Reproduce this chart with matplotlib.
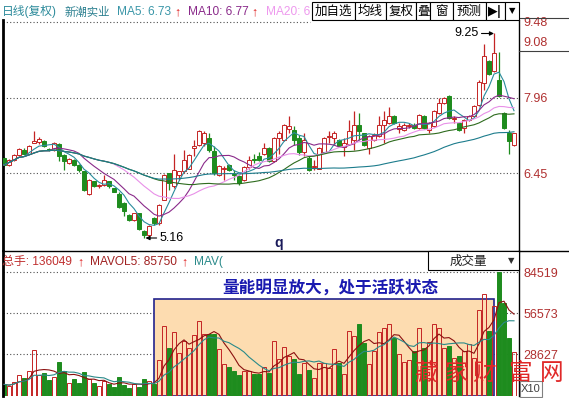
import numpy as np
import pandas as pd
import matplotlib
matplotlib.use('Agg')
import matplotlib.pyplot as plt
from matplotlib.patches import Rectangle
from matplotlib.lines import Line2D

plt.rcParams['font.family'] = ['Liberation Sans', 'Noto Sans CJK SC', 'DejaVu Sans']

# daily candles
opens = [6.75, 6.62, 6.72, 6.82, 6.92, 6.85, 7.05, 7.07, 7.09, 6.94,
         6.92, 7.03, 6.82, 6.65, 6.72, 6.62, 6.49, 6.03, 6.29, 6.19,
         6.22, 6.29, 6.15, 6.05, 5.85, 5.62, 5.52, 5.65, 5.30, 5.22,
         5.55, 5.45, 5.93, 6.45, 6.19, 6.42, 6.49, 6.55, 6.95, 7.02,
         7.05, 7.15, 6.89, 6.42, 6.54, 6.62, 6.43, 6.39, 6.32, 6.57,
         6.75, 6.79, 6.84, 6.95, 6.69, 7.15, 7.12, 7.33, 7.32, 7.15,
         6.89, 6.77, 6.57, 6.55, 6.89, 7.17, 7.15, 7.12, 6.97, 7.04,
         7.12, 7.42, 7.25, 6.95, 7.12, 7.19, 7.42, 7.45, 7.59, 7.33,
         7.32, 7.39, 7.42, 7.35, 7.59, 7.32, 7.39, 7.65, 7.85, 7.99,
         7.54, 7.45, 7.35, 7.52, 7.60, 7.82, 8.25, 8.69, 8.49, 8.32,
         7.65, 7.25, 7.02]
highs = [6.78, 6.74, 6.85, 6.96, 6.95, 7.01, 7.30, 7.17, 7.11, 6.96,
         7.07, 7.06, 6.84, 6.75, 6.74, 6.64, 6.50, 6.34, 6.31, 6.23,
         6.42, 6.31, 6.17, 6.07, 5.87, 5.64, 5.67, 5.67, 5.32, 5.42,
         5.57, 5.84, 6.44, 6.47, 6.85, 6.51, 6.92, 6.84, 7.12, 7.32,
         7.30, 7.25, 6.99, 6.61, 6.59, 6.64, 6.52, 6.41, 6.59, 6.79,
         6.85, 6.89, 7.05, 6.97, 7.17, 7.29, 7.44, 7.59, 7.39, 7.22,
         7.25, 6.79, 6.72, 6.97, 7.17, 7.29, 7.29, 7.14, 7.15, 7.52,
         7.69, 7.65, 7.27, 7.21, 7.25, 7.59, 7.69, 7.77, 7.62, 7.45,
         7.45, 7.45, 7.45, 7.64, 7.62, 7.47, 7.72, 7.95, 7.97, 8.02,
         7.59, 7.47, 7.54, 7.62, 7.82, 8.32, 9.04, 8.72, 9.25, 8.87,
         7.67, 7.32, 7.27]
lows = [6.60, 6.59, 6.70, 6.80, 6.83, 6.84, 7.05, 7.04, 6.97, 6.90,
        6.90, 6.69, 6.52, 6.63, 6.60, 6.48, 6.10, 6.02, 6.18, 6.17,
        6.20, 6.17, 6.07, 5.77, 5.60, 5.49, 5.50, 5.33, 5.16, 5.20,
        5.42, 5.43, 5.92, 6.12, 6.17, 6.32, 6.47, 6.53, 6.79, 7.00,
        7.00, 6.89, 6.43, 6.40, 6.32, 6.50, 6.32, 6.22, 6.30, 6.55,
        6.65, 6.70, 6.82, 6.67, 6.67, 6.85, 7.10, 7.25, 7.02, 6.82,
        6.79, 6.50, 6.52, 6.53, 6.87, 7.05, 7.02, 6.97, 6.79, 7.02,
        6.92, 7.12, 7.00, 6.85, 7.10, 7.17, 7.05, 7.43, 7.43, 7.25,
        7.30, 7.36, 7.33, 7.33, 7.33, 7.25, 7.37, 7.63, 7.83, 7.53,
        7.45, 7.30, 7.25, 7.50, 7.58, 7.80, 8.12, 8.42, 8.47, 7.97,
        7.33, 6.85, 7.00]
closes = [6.62, 6.72, 6.82, 6.93, 6.85, 6.99, 7.09, 7.13, 6.99, 6.92,
          7.05, 6.79, 6.69, 6.73, 6.62, 6.52, 6.12, 6.32, 6.20, 6.21,
          6.32, 6.19, 6.09, 5.79, 5.69, 5.52, 5.65, 5.35, 5.22, 5.40,
          5.45, 5.82, 6.42, 6.25, 6.51, 6.49, 6.72, 6.82, 7.00, 7.29,
          7.25, 6.92, 6.45, 6.59, 6.56, 6.52, 6.41, 6.25, 6.57, 6.72,
          6.72, 6.72, 6.95, 6.69, 7.15, 7.25, 7.42, 7.40, 7.12, 6.89,
          7.12, 6.52, 6.60, 6.95, 7.15, 7.19, 7.25, 6.99, 7.06, 7.30,
          7.42, 7.29, 7.02, 7.19, 7.22, 7.42, 7.52, 7.59, 7.45, 7.39,
          7.42, 7.42, 7.35, 7.62, 7.35, 7.45, 7.69, 7.85, 7.95, 7.55,
          7.56, 7.32, 7.52, 7.59, 7.80, 8.29, 8.80, 8.45, 8.85, 7.99,
          7.35, 7.09, 7.25]
volumes = [7950, 6820, 9770, 14090, 12040, 17040, 31130, 14090, 15900, 10680,
           12950, 23170, 17040, 8630, 11810, 9090, 16360, 11360, 8860, 6820,
           10220, 7950, 6360, 12950, 7500, 5680, 7950, 6360, 11360, 10220,
           8410, 24310, 47710, 32940, 43620, 29540, 37490, 32940, 41580, 51120,
           42030, 42490, 42490, 31810, 21580, 19770, 17040, 14310, 17040, 17040,
           14770, 14770, 19770, 15900, 37490, 24990, 33400, 27260, 24990, 15220,
           22500, 17720, 12300, 22500, 22500, 19310, 32150, 22500, 14770, 44300,
           40900, 49300, 36350, 21590, 30670, 43620, 46120, 49300, 39310, 28860,
           23180, 24540, 30670, 46120, 32490, 37030, 49300, 46120, 32490, 34080,
           26130, 27270, 30670, 35220, 26130, 58620, 69300, 44300, 61350, 84519,
           63620, 39310, 30220]

ma_windows = [5, 10, 20, 30, 60]
ma_colors = ['#2a8c9c', '#8a2a8a', '#e890e8', '#2e6b1e', '#1c7c8c']
vol_ma_windows = [5, 10]
vol_ma_colors = ['#8b1010', '#2a8a8a']

price_ticks = [9.48, 9.08, 7.96, 6.45]
price_grid = [9.48, 7.96, 6.45]
vol_ticks = [84519, 56573, 28627]

# highlighted volume zone (day index range and top of box)
zone_start, zone_end, zone_top = 30, 98, 66100

RED = '#c42424'
GRN = '#1e8c1e'
LBL = '#b03030'

W, H = 569, 398
fig = plt.figure(figsize=(W / 100, H / 100), dpi=100)


def fx(px):
    return px / W


def fy(py):
    return 1 - py / H


ax = fig.add_axes([fx(3), fy(250), fx(519) - fx(3), fy(20) - fy(250)])
axv = fig.add_axes([fx(3), fy(396), fx(519) - fx(3), fy(251) - fy(396)])

o = np.array(opens)
c = np.array(closes)
h = np.array(highs)
l = np.array(lows)
v = np.array(volumes)
x = np.arange(len(o))
up = c >= o
cols = np.where(up, RED, GRN)

# ---- price panel
for y in price_grid:
    xmax = 0.595 if y == price_grid[0] else 1
    ax.axhline(y, 0, xmax, color='#505050', lw=0.8, ls=(0, (1, 2)), zorder=1)

ax.vlines(x, l, h, colors=cols, lw=0.9, zorder=2)
ax.bar(x, np.maximum(np.abs(c - o), 0.012), bottom=np.minimum(o, c), width=0.62,
       color=np.where(up, 'white', GRN), edgecolor=cols, lw=0.7, zorder=3)

cs = pd.Series(c)
for w, col in zip(ma_windows, ma_colors):
    ax.plot(x, cs.rolling(w, min_periods=1).mean(), color=col, lw=0.8, zorder=4)

imax = int(np.argmax(h))
imin = int(np.argmin(l))
ax.annotate('%.2f' % h[imax], xy=(imax, h[imax]), xytext=(-11, 0),
            textcoords='offset points', ha='right', va='center', fontsize=9,
            arrowprops=dict(arrowstyle='-|>', color='black', lw=0.8,
                            shrinkA=0, shrinkB=0, mutation_scale=6))
ax.annotate('%.2f' % l[imin], xy=(imin + 0.3, l[imin]), xytext=(10, 0),
            textcoords='offset points', ha='left', va='center', fontsize=9,
            arrowprops=dict(arrowstyle='-|>', color='black', lw=0.8,
                            shrinkA=0, shrinkB=0, mutation_scale=6))

ax.set_xlim(-0.2, 103.0)
ax.set_ylim(4.92, 9.52)
ax.yaxis.tick_right()
ax.set_yticks(price_ticks)
ax.set_yticklabels(['%.2f' % t for t in price_ticks])
ax.tick_params(axis='y', length=0, pad=3, labelsize=9, labelcolor=LBL)
ax.set_xticks([])
ax.spines['top'].set_visible(False)
ax.spines['bottom'].set_visible(False)
ax.spines['left'].set_linewidth(2)
ax.spines['right'].set_linewidth(1)

# ---- volume panel
for y in vol_ticks:
    axv.axhline(y, color='#505050', lw=0.8, ls=(0, (1, 2)), zorder=1)

axv.add_patch(Rectangle((zone_start, 0), zone_end - zone_start, zone_top,
                        facecolor='#fddcb0', edgecolor='#22228c', lw=1.2, zorder=1.5))

axv.bar(x, v, width=0.64, color=np.where(up, 'none', GRN), edgecolor=cols,
        lw=0.7, zorder=2)
vs = pd.Series(v)
for w, col in zip(vol_ma_windows, vol_ma_colors):
    axv.plot(x, vs.rolling(w, min_periods=1).mean(), color=col, lw=0.8, zorder=3)

axv.set_xlim(-0.2, 103.0)
axv.set_ylim(0, 98833)
axv.yaxis.tick_right()
axv.set_yticks(vol_ticks)
axv.set_yticklabels([str(t) for t in vol_ticks])
axv.tick_params(axis='y', length=0, pad=3, labelsize=9, labelcolor=LBL)
axv.set_xticks([])
axv.spines['bottom'].set_visible(False)
axv.spines['left'].set_linewidth(2)
axv.spines['right'].set_linewidth(1)
axv.spines['top'].set_linewidth(1)

# ---- header rows
hy = fy(12)
fig.text(fx(2), hy, '日线(复权)', color='#2d8b9b', fontsize=8.5, va='center')
fig.text(fx(65), hy, '新潮实业', color='#2a7f8f', fontsize=8.2, va='center')
fig.text(fx(117), hy, 'MA5: 6.73', color='#3a96a8', fontsize=8.6, va='center')
fig.text(fx(174), hy, '↑', color='#e02020', fontsize=9, fontweight='bold', va='center')
fig.text(fx(188), hy, 'MA10: 6.77', color='#8a2a8a', fontsize=8.6, va='center')
fig.text(fx(251), hy, '↑', color='#e02020', fontsize=9, fontweight='bold', va='center')
fig.text(fx(266), hy, 'MA20: 6', color='#ee99ee', fontsize=8.6, va='center')

tb_edges = [312, 355, 386, 416, 430, 453, 486, 505, 519]
tb_labels = ['加自选', '均线', '复权', '叠', '窗', '预测', '▶|', '▼']
for i, lab in enumerate(tb_labels):
    x0, x1 = tb_edges[i], tb_edges[i + 1]
    fig.add_artist(Rectangle((fx(x0), fy(20)), fx(x1) - fx(x0), fy(2) - fy(20),
                             transform=fig.transFigure, facecolor='white',
                             edgecolor='black', lw=0.8, zorder=5))
    fam = ['DejaVu Sans'] if i >= 6 else ['Noto Sans CJK SC']
    fig.text(fx((x0 + x1) / 2), fy(11), lab, ha='center', va='center',
             fontsize=6 if i == 7 else 9, family=fam, zorder=6,
             fontweight='bold' if i == 6 else 'normal')

for py in [18, 51]:
    fig.add_artist(Line2D([fx(519), 1], [fy(py), fy(py)], color='#404040', lw=0.8))
fig.add_artist(Line2D([fx(519), 1], [fy(251), fy(251)], color='black', lw=1))

fig.text(fx(279), fy(243), 'q', color='#1a1a5a', fontsize=10, fontweight='bold',
         ha='center', va='center')

vy = fy(262)
fig.text(fx(2), vy, '总手: 136049', color='#c03030', fontsize=8.6, va='center')
fig.text(fx(77), vy, '↑', color='#e02020', fontsize=9, fontweight='bold', va='center')
fig.text(fx(90), vy, 'MAVOL5: 85750', color='#a02020', fontsize=8.6, va='center')
fig.text(fx(181), vy, '↑', color='#e02020', fontsize=9, fontweight='bold', va='center')
fig.text(fx(194), vy, 'MAV(', color='#2a8a8a', fontsize=8.6, va='center')

fig.add_artist(Rectangle((fx(428), fy(270)), fx(519) - fx(428), fy(251) - fy(270),
                         transform=fig.transFigure, facecolor='white',
                         edgecolor='black', lw=0.8))
fig.text(fx(468), fy(261), '成交量', fontsize=9, ha='center', va='center',
         family=['Noto Sans CJK SC'], color='#202020')
fig.text(fx(511), fy(261), '▼', fontsize=6, ha='center', va='center',
         family=['DejaVu Sans'], color='#303030')

fig.text(fx(330), fy(288), '量能明显放大，处于活跃状态', color='#1a1ab0', fontsize=12,
         fontweight='bold', ha='center', va='center', family=['Noto Sans CJK SC'])

# watermark
for ch, px in zip('藏家财富网', [426, 456, 484, 520, 552]):
    fig.text(fx(px), fy(373), ch, color='#e02828', fontsize=17, fontweight='light',
             ha='center', va='center', family=['Noto Sans CJK SC'], zorder=10)

fig.add_artist(Rectangle((fx(520), fy(397)), fx(542) - fx(520), fy(381) - fy(397),
                         transform=fig.transFigure, facecolor='none',
                         edgecolor='#808080', lw=0.8))
fig.text(fx(531), fy(389), 'X10', fontsize=8, ha='center', va='center', color='#404040')

fig.savefig('out.png', dpi=100)
